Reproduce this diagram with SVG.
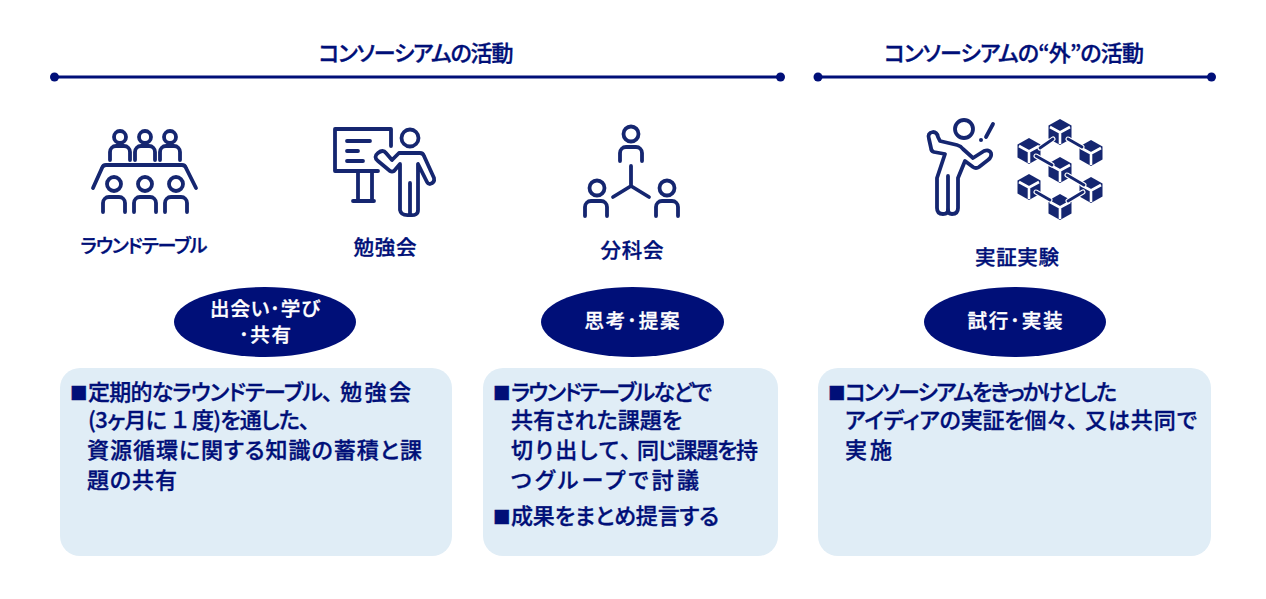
<svg xmlns="http://www.w3.org/2000/svg" width="1266" height="599" viewBox="0 0 1266 599">
<style>
text{font-family:"Noto Sans CJK JP","Noto Sans",sans-serif;fill:#000f78;stroke:#000f78;stroke-width:.35px;font-weight:500;font-feature-settings:"palt"}
.h{font-size:22px;text-anchor:middle}
.l{font-size:20.500px;text-anchor:middle}
.k{font-size:19px}
.o{font-size:19.500px;text-anchor:middle;fill:#fff;stroke:#fff}
.b{font-size:22px}
.s{font-size:17.500px}
.n{font-feature-settings:normal}
.i{fill:none;stroke:#152670;stroke-width:3.800;stroke-linecap:round;stroke-linejoin:round}
.r{stroke:#000f78;stroke-width:3;fill:none}
.e{fill:#000f78}
.p{fill:#e0edf6}
.c{fill:none;stroke:#fff;stroke-width:5;stroke-linecap:round}
.d{fill:none;stroke:#152670;stroke-width:2.800;stroke-linecap:round}
</style>
<defs>
<g id="cube"><path d="M0-13 11.500-6.500V6.500L0 13-11.500 6.500V-6.500Z" fill="#152670"/><path d="M-10-5 0 .5 10-5M0 .5V12" fill="none" stroke="#fff" stroke-width="2.600"/></g>
<path id="b1" d="M-10 11V3A6 6 0 0 1-4-3H4A6 6 0 0 1 10 3V11"/>
<path id="b2" d="M-11 14V5A6 6 0 0 1-5-1H5A6 6 0 0 1 11 5V14"/>
</defs>
<g id="connectors">
<path class="r" d="M54 77H781M817 77H1212"/>
<circle class="e" cx="54.500" cy="77" r="4.500"/><circle class="e" cx="780.500" cy="77" r="4.500"/><circle class="e" cx="818" cy="77" r="4.500"/><circle class="e" cx="1211.500" cy="77" r="4.500"/>
</g>
<g id="header-1"><text class="h" x="416" y="61" textLength="195" lengthAdjust="spacing">コンソーシアムの活動</text></g>
<g id="header-2"><text class="h" x="1014" y="61" textLength="260" lengthAdjust="spacing">コンソーシアムの“外”の活動</text></g>
<g id="roundtable">
<g class="i">
<circle cx="120" cy="137" r="6"/><circle cx="145" cy="137" r="6"/><circle cx="170" cy="137" r="6"/>
<use href="#b1" x="120" y="149"/><use href="#b1" x="145" y="149"/><use href="#b1" x="170" y="149"/>
<path d="M93 188 102 168Q103 165 106 165H182Q185 165 186 168L196 188"/>
<circle cx="114" cy="184" r="7"/><circle cx="145" cy="184" r="7"/><circle cx="176" cy="184" r="7"/>
<use href="#b2" x="114" y="198"/><use href="#b2" x="145" y="198"/><use href="#b2" x="176" y="198"/>
</g>
<text class="l k" x="144" y="253" textLength="127" lengthAdjust="spacing">ラウンドテーブル</text>
</g>
<g id="study">
<g class="i">
<path d="M391 146V129H335V171H378M347 141H370M347 151H358M347 161H363M358 171V201M372 171V201M353 201H374"/>
<circle cx="410" cy="138" r="8.500"/>
<path d="M378 153Q383 149 386 153L392 160 399 153H420Q423 153 424 156L434 178Q435 183 430 184 428 184 427 182L418 164V210Q418 216 410 215 401 216 400 210V164L394 171Q392 172 390 171L378 161Q373 157 378 153Z"/>
<path d="M410 183V214"/>
</g>
<text class="l" x="385" y="255" textLength="63" lengthAdjust="spacing">勉強会</text>
</g>
<g id="subgroup">
<g class="i">
<circle cx="631" cy="134" r="7.500"/><path d="M620 161V153A6 6 0 0 1 626 147H636A6 6 0 0 1 642 153V161"/>
<path d="M631 166V186M631 186 613 197M631 186 649 197"/>
<circle cx="597" cy="188" r="7.500"/><use href="#b2" x="596" y="202"/>
<circle cx="667" cy="188" r="7.500"/><use href="#b2" x="667" y="202"/>
</g>
<text class="l" x="632" y="258" textLength="63" lengthAdjust="spacing">分科会</text>
</g>
<g id="experiment">
<g class="i">
<circle cx="964" cy="129" r="9"/>
<path d="M993 124 986 137"/>
<path d="M929 139Q927 133 933 132 937 132 938 137L940 141 957 145Q961 146 963 149L973 158 984 151Q989 149 991 153 992 157 988 160L979 167Q976 169 973 167L965 161 958 178V208Q958 214 952 214 948 214 948 210 948 214 943 214 937 214 937 208V178L945 154 934 152Q931 151 931 148Z"/>
<path d="M948 176V210"/>
</g>
<circle cx="981" cy="140" r="2" fill="#152670"/>
<use href="#cube" x="1060" y="132"/><use href="#cube" x="1029" y="151"/><use href="#cube" x="1091" y="153"/><use href="#cube" x="1060" y="170"/><use href="#cube" x="1029" y="187"/><use href="#cube" x="1091" y="190"/><use href="#cube" x="1060" y="207"/>
<path class="c" d="M1040 148 1053 139M1068 139 1082 147M1036 156 1052 165M1067 175 1084 185M1036 192 1050 200M1068 201 1083 192"/>
<path class="d" d="M1040 148 1053 139M1068 139 1082 147M1036 156 1052 165M1067 175 1084 185M1036 192 1050 200M1068 201 1083 192"/>
<text class="l" x="1017" y="265" textLength="84" lengthAdjust="spacing">実証実験</text>
</g>
<g id="oval-1"><ellipse class="e" cx="265" cy="322" rx="91" ry="35"/>
<text class="o" x="265" y="316" textLength="110" lengthAdjust="spacing">出会い･学び</text><text class="o" x="265" y="342" textLength="52" lengthAdjust="spacing">･共有</text></g>
<g id="oval-2"><ellipse class="e" cx="632.500" cy="322" rx="91.500" ry="35"/>
<text class="o" x="632" y="328" textLength="95" lengthAdjust="spacing">思考･提案</text></g>
<g id="oval-3"><ellipse class="e" cx="1015" cy="322" rx="91" ry="35"/>
<text class="o" x="1015" y="328" textLength="95" lengthAdjust="spacing">試行･実装</text></g>
<g id="panel-1"><rect class="p" x="60" y="368" width="392" height="188" rx="20"/>
<text class="b" y="400"><tspan class="s" x="70">■</tspan><tspan x="88" textLength="245" lengthAdjust="spacing">定期的なラウンドテーブル、</tspan><tspan x="340" textLength="71" lengthAdjust="spacing">勉強会</tspan></text>
<text class="b" y="428"><tspan x="88" textLength="79" lengthAdjust="spacing">(3ヶ月に</tspan><tspan class="n" x="169">１</tspan><tspan x="192" textLength="118" lengthAdjust="spacing">度)を通した、</tspan></text>
<text class="b" x="87" y="458" textLength="335" lengthAdjust="spacing">資源循環に関する知識の蓄積と課</text>
<text class="b" x="87" y="488" textLength="90" lengthAdjust="spacing">題の共有</text></g>
<g id="panel-2"><rect class="p" x="483" y="368" width="295" height="188" rx="20"/>
<text class="b" y="400"><tspan class="s" x="493">■</tspan><tspan x="511" textLength="201" lengthAdjust="spacing">ラウンドテーブルなどで</tspan></text>
<text class="b" x="511" y="428" textLength="171" lengthAdjust="spacing">共有された課題を</text>
<text class="b" y="458"><tspan x="511" textLength="120" lengthAdjust="spacing">切り出して、</tspan><tspan x="637" textLength="121" lengthAdjust="spacing">同じ課題を持</tspan></text>
<text class="b" x="511" y="488" textLength="188" lengthAdjust="spacing">つグループで討議</text>
<text class="b" y="524"><tspan class="s" x="493">■</tspan><tspan x="511" textLength="208" lengthAdjust="spacing">成果をまとめ提言する</tspan></text></g>
<g id="panel-3"><rect class="p" x="818" y="368" width="393" height="188" rx="20"/>
<text class="b" y="400"><tspan class="s" x="828">■</tspan><tspan x="845" textLength="272" lengthAdjust="spacing">コンソーシアムをきっかけとした</tspan></text>
<text class="b" y="428"><tspan x="845" textLength="233" lengthAdjust="spacing">アイディアの実証を個々、</tspan><tspan x="1085" textLength="112" lengthAdjust="spacing">又は共同で</tspan></text>
<text class="b" x="845" y="458" textLength="47" lengthAdjust="spacing">実施</text></g>
</svg>
